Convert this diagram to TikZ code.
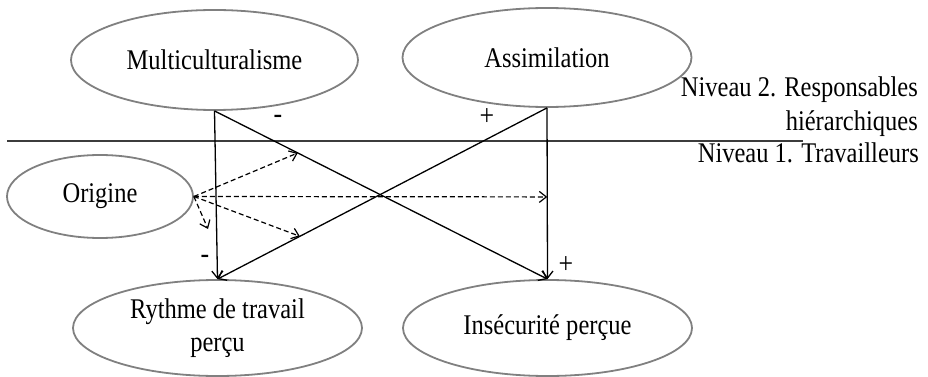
\documentclass[tikz,border=0pt]{standalone}
\usepackage{fontspec}
\setmainfont{Liberation Serif}[FakeStretch=0.86]
\usetikzlibrary{shapes.geometric,arrows.meta}

\definecolor{ellipsegray}{RGB}{128,128,128}
\definecolor{divgray}{RGB}{60,60,60}

\begin{document}
\begin{tikzpicture}[x=1pt,y=-1pt,
  var/.style={ellipse, draw=ellipsegray, line width=1.8pt, inner sep=0pt,
    align=center, font=\fontsize{28.5}{33}\selectfont},
  arr/.style={line width=1.3pt, -{Straight Barb[length=7pt,width=11pt]}},
  modarr/.style={arr, line width=1.2pt, dash pattern=on 5pt off 3pt},
  sign/.style={font=\fontsize{30}{34}\selectfont, inner sep=0pt},
  level/.style={font=\fontsize{28.5}{33}\selectfont, anchor=base east, inner sep=0pt},
  divider/.style={line width=1.5pt, draw=divgray}]

\useasboundingbox (0,0) rectangle (928,377);

% variables
\node[var, minimum width=287pt, minimum height=100pt] (multi) at (214.5,60) {Multiculturalisme};
\node[var, minimum width=289pt, minimum height=99pt] (assim) at (547,57.5) {Assimilation};
\node[var, minimum width=186pt, minimum height=83pt] (orig) at (100,196.5) {Origine};
\node[var, minimum width=289pt, minimum height=96pt] (rythme) at (217.5,328) {Rythme de travail\\perçu};
\node[var, minimum width=289pt, minimum height=96pt] (insec) at (547.5,328) {Insécurité perçue};

% level separator and labels
\coordinate (divL) at (7,141);
\coordinate (divR) at (803,141);
\draw[divider] (divL) -- (divR);
\node[level] (lvl2a) at (918,97) {Niveau 2. Responsables};
\node[level] (lvl2b) at (918,130) {hiérarchiques};
\node[level] (lvl1) at (919,162) {Niveau 1. Travailleurs};

% cross-level effects
\draw[arr] (multi.south) -- (rythme.north);
\draw[arr] (multi.south) -- (insec.north);
\draw[arr] (assim.south) -- (insec.north);
\draw[arr] (assim.south) -- (rythme.north);

% moderation targets
\path (multi.south) -- (insec.north) coordinate[pos=0.25] (modA);
\path (assim.south) -- (rythme.north) coordinate[pos=0.75] (modB);
\path (assim.south) -- (insec.north) coordinate[pos=0.52] (modC);
\coordinate (modD) at (208,229);

\draw[modarr] (orig.east) -- (modA);
\draw[modarr] (orig.east) -- (modC);
\draw[modarr] (orig.east) -- (modB);
\draw[modarr] (orig.east) -- (modD);

% signs
\node[sign] (s1) at (278,119) {-};
\node[sign] (s2) at (487,117) {+};
\node[sign] (s3) at (205,259) {-};
\node[sign] (s4) at (566,265) {+};

\end{tikzpicture}
\end{document}
